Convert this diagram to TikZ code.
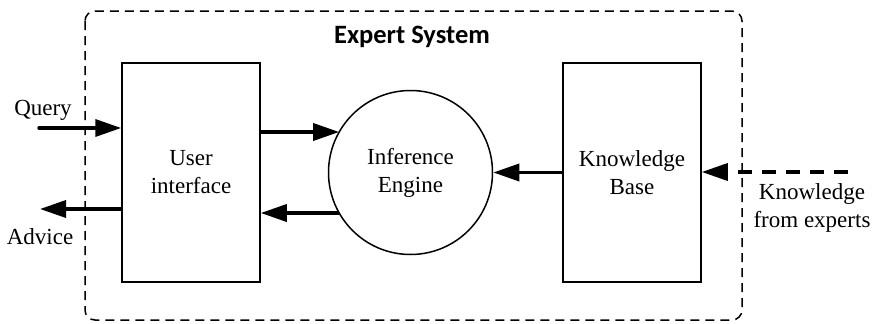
\documentclass[tikz,border=0pt]{standalone}
\usepackage{fontspec}
\setmainfont{Liberation Serif}
\newfontfamily\titlefont{Carlito}
\usetikzlibrary{arrows.meta,calc}
\begin{document}
\begin{tikzpicture}[x=1pt,y=-1pt,
  every node/.style={font=\fontsize{23}{28}\selectfont, align=center},
  blockbox/.style={draw, line width=1.5pt, minimum width=138pt, minimum height=219pt, inner sep=0pt},
  thickarrow/.style={line width=3.5pt, -{Triangle[length=26pt,width=17pt]}},
  dasharrow/.style={line width=3.5pt, dash pattern=on 14pt off 10pt, -{Triangle[length=26pt,width=17pt]}},
  outerbox/.style={draw, line width=1.5pt, dash pattern=on 9pt off 6pt, rounded corners=10pt}
]
\useasboundingbox (0,0) rectangle (873,324);
\draw[outerbox] (85,11) rectangle (742,320);
\node[font=\titlefont\bfseries\fontsize{26.5}{30}\selectfont] (title) at (412,37) {Expert System};
\node[blockbox] (ui) at (191,172.5) {User\\interface};
\node[blockbox] (kb) at (632,172.5) {Knowledge\\Base};
\node[draw, circle, line width=1.5pt, minimum size=164pt, inner sep=0pt] (ie) at (410.5,172.5) {Inference\\Engine};
\coordinate (qs) at (39,128);
\coordinate (ae) at (40,209);
\coordinate (ks) at (848,172);
\node (query) at (43,110) {Query};
\node (advice) at (40,237) {Advice};
\node (kfe) at (812,208) {Knowledge\\from experts};
\draw[thickarrow, line cap=round] (qs) -- (qs -| ui.west);
\draw[thickarrow] (ui.west |- ae) -- (ae);
\draw[thickarrow] (ui.east |- 0,132) -- ($(ie.center)+(-71.3,-40.5)$);
\draw[thickarrow] ($(ie.center)+(-71.3,40.5)$) -- (ui.east |- 0,213);
\draw[thickarrow] (kb.west |- ie.east) -- (ie.east);
\draw[dasharrow] (ks) -- (ks -| kb.east);
\end{tikzpicture}
\end{document}
